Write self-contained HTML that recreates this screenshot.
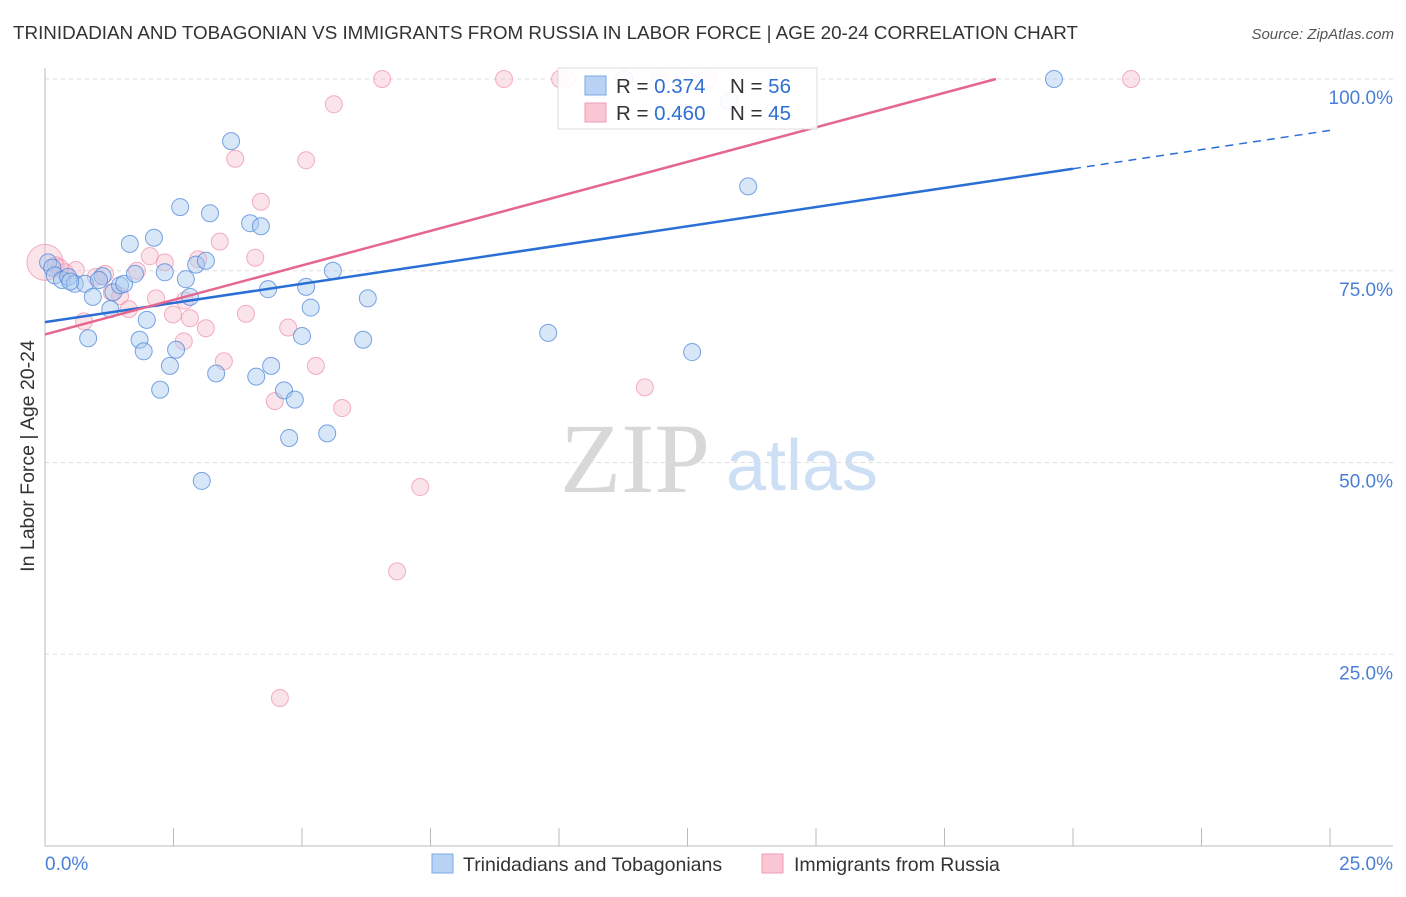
<!DOCTYPE html>
<html><head><meta charset="utf-8"><style>
body{margin:0;background:#fff;font-family:"Liberation Sans",sans-serif;}
</style></head><body>
<svg id="chart" width="1406" height="892" xmlns="http://www.w3.org/2000/svg" font-family="Liberation Sans, sans-serif">
<text x="13" y="39" font-size="18.7" fill="#333" textLength="1065" lengthAdjust="spacingAndGlyphs">TRINIDADIAN AND TOBAGONIAN VS IMMIGRANTS FROM RUSSIA IN LABOR FORCE | AGE 20-24 CORRELATION CHART</text>
<text x="1394" y="39" font-size="15" fill="#555" text-anchor="end" font-style="italic">Source: ZipAtlas.com</text>
<text transform="translate(34,456) rotate(-90)" font-size="19.5" fill="#333" text-anchor="middle">In Labor Force | Age 20-24</text>
<g><text x="635" y="492" font-size="100" fill="#d8d8d8" font-family="Liberation Serif, serif" text-anchor="middle">ZIP</text><text x="802" y="490" font-size="72" fill="#cddff4" text-anchor="middle">atlas</text></g>
<g id="grid"></g><g id="axes"></g><g id="pts"></g><g id="lines"></g>
<g>
<rect x="558" y="68" width="259" height="61" fill="#fff" fill-opacity="0.9" stroke="#ddd"/>
<rect x="585" y="76" width="21" height="19" fill="#b8d3f5" stroke="#7aa8e6"/>
<rect x="585" y="103" width="21" height="19" fill="#f9c6d4" stroke="#ee9db5"/>
<text x="616" y="93" font-size="20.5" fill="#333">R = <tspan fill="#2f6fd1">0.374</tspan></text>
<text x="730" y="93" font-size="20.5" fill="#333">N = <tspan fill="#2f6fd1">56</tspan></text>
<text x="616" y="120" font-size="20.5" fill="#333">R = <tspan fill="#2f6fd1">0.460</tspan></text>
<text x="730" y="120" font-size="20.5" fill="#333">N = <tspan fill="#2f6fd1">45</tspan></text>
</g>
<g>
<rect x="432" y="854" width="21" height="19" fill="#b8d3f5" stroke="#7aa8e6"/>
<text x="463" y="871" font-size="19.5" fill="#333">Trinidadians and Tobagonians</text>
<rect x="762" y="854" width="21" height="19" fill="#f9c6d4" stroke="#ee9db5"/>
<text x="794" y="871" font-size="19.5" fill="#333">Immigrants from Russia</text>
</g>
</svg>
<script>
const yTicks=[25,50,75,100];
const yTickLabels=["25.0%","50.0%","75.0%","100.0%"];
const xTicks=[0,2.5,5,7.5,10,12.5,15,17.5,20,22.5,25];
const blueX=[0.06,0.14,0.19,0.33,0.45,0.58,0.78,0.84,0.93,1.12,1.27,1.33,1.46,1.54,1.65,1.75,1.84,1.92,1.98,2.12,2.24,2.33,2.43,2.55,2.63,2.74,2.82,2.94,3.05,3.13,3.21,3.33,3.62,3.99,4.11,4.2,4.34,4.4,4.65,4.75,4.86,5.0,5.08,5.17,5.49,5.6,6.19,6.28,9.79,11.27,12.59,13.31,13.68,19.63,1.05,0.49];
const blueY=[76.1,75.4,74.4,73.8,74.2,73.3,73.3,66.2,71.6,74.3,70.0,72.2,73.1,73.3,78.5,74.6,66.0,64.5,68.6,79.3,59.5,74.8,62.6,64.7,83.3,73.9,71.6,75.8,47.6,76.3,82.5,61.6,91.9,81.2,61.2,80.8,72.6,62.6,59.4,53.2,58.2,66.5,72.9,70.2,53.8,75.0,66.0,71.4,66.9,100,64.4,97.1,86.0,100,73.8,73.6];
const pinkX=[0,0.21,0.39,0.6,0.76,0.99,1.3,1.46,1.63,1.79,2.04,2.16,2.33,2.49,2.7,2.82,2.98,3.13,3.4,3.48,3.7,3.91,4.09,4.2,4.47,4.73,5.08,5.27,5.62,5.78,6.56,6.85,7.3,8.93,10.02,10.14,11.67,11.96,12.45,12.9,21.13,4.57,0.29,1.17,2.72];
const pinkY=[76.1,75.7,74.8,75.1,68.4,74.2,72.2,71.7,70.0,75.0,76.9,71.4,76.1,69.3,65.8,68.8,76.5,67.5,78.8,63.2,89.6,69.4,76.7,84.0,58.0,67.6,89.4,62.6,96.7,57.1,100,35.8,46.8,100,100,100,59.8,100,100,100,100,19.3,75.4,74.6,71.1];
const bigPink=[0];
const blueLine=[0,68.3,20,88.3];
const pinkLine=[0,66.7,18.5,100];
const NS="http://www.w3.org/2000/svg";
const X=v=>45+v/25*1285, Y=v=>846-v/100*767;
function mk(tag,attrs,parent){const e=document.createElementNS(NS,tag);for(const k in attrs)e.setAttribute(k,attrs[k]);parent.appendChild(e);return e;}
const grid=document.getElementById('grid'),axes=document.getElementById('axes'),pts=document.getElementById('pts'),lines=document.getElementById('lines');
yTicks.forEach((t,i)=>{
 const l=mk('line',{x1:45,x2:1393,y1:Y(t),y2:Y(t),stroke:'#ddd','stroke-dasharray':'4,4'},grid);
 
 
 const tx=mk('text',{x:1393,y:Y(t)+25,'font-size':19,fill:'#4a7fd6','text-anchor':'end'},axes);
 tx.textContent=yTickLabels[i];
 
 
});
const ax=mk('line',{x1:45,x2:1393,y1:846,y2:846,stroke:'#bbb'},axes);


const ay=mk('line',{x1:45,x2:45,y1:68,y2:846,stroke:'#bbb'},axes);


xTicks.forEach(t=>{const l=mk('line',{x1:X(t),x2:X(t),y1:828,y2:846,stroke:'#bbb'},axes);
 
 });
const xl0=mk('text',{x:45,y:870,'font-size':19,fill:'#4a7fd6'},axes);xl0.textContent='0.0%';


const xl1=mk('text',{x:1393,y:870,'font-size':19,fill:'#4a7fd6','text-anchor':'end'},axes);xl1.textContent='25.0%';


pinkX.forEach((v,i)=>{const c=mk('circle',{cx:X(v),cy:Y(pinkY[i]),r:bigPink.includes(i)?18:8.5,fill:'#f6b8ca','fill-opacity':0.4,stroke:'#ee8fab','stroke-opacity':0.7},pts);
 
 });
blueX.forEach((v,i)=>{const c=mk('circle',{cx:X(v),cy:Y(blueY[i]),r:8.5,fill:'#a9c9f0','fill-opacity':0.45,stroke:'#4f86d9','stroke-opacity':0.75},pts);
 
 });
const bs=(blueLine[3]-blueLine[1])/(blueLine[2]-blueLine[0]);
const b1=mk('line',{x1:X(0),y1:Y(blueLine[1]),x2:X(blueLine[2]),y2:Y(blueLine[3]),stroke:'#2a6fd6','stroke-width':2.5},lines);


const b2=mk('line',{x1:X(blueLine[2]),y1:Y(blueLine[3]),x2:X(25),y2:Y(blueLine[1]+bs*25),stroke:'#2a6fd6','stroke-width':1.5,'stroke-dasharray':'8,6'},lines);


const p1=mk('line',{x1:X(0),y1:Y(pinkLine[1]),x2:X(pinkLine[2]),y2:Y(pinkLine[3]),stroke:'#e5668e','stroke-width':2.5},lines);


</script>
</body></html>
